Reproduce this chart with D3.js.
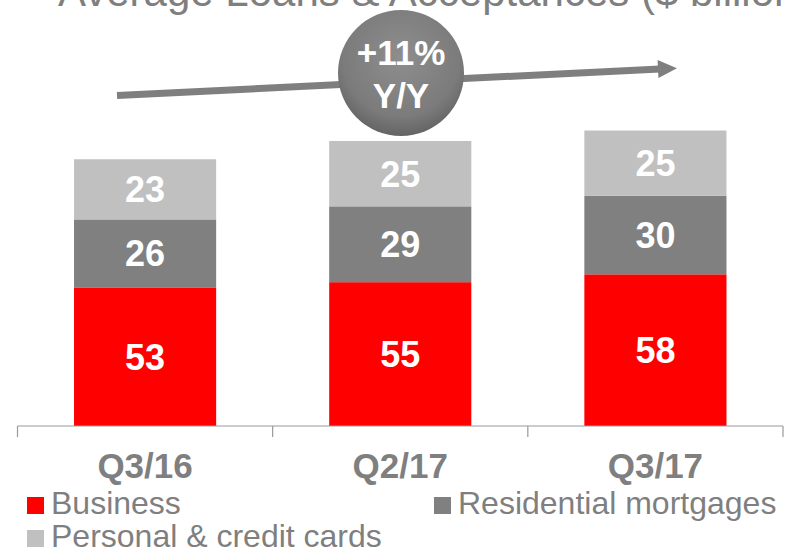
<!DOCTYPE html>
<html>
<head>
<meta charset="utf-8">
<script src="https://cdn.jsdelivr.net/npm/d3@7/dist/d3.min.js"></script>
<style>
  html, body { margin: 0; padding: 0; background: #fff; }
  svg { display: block; font-family: Arial, "Liberation Sans", sans-serif; }
</style>
</head>
<body>
<svg id="chart" width="788" height="553"></svg>
<script>
const title = "Average Loans & Acceptances ($ billions)";
const categories = ["Q3/16", "Q2/17", "Q3/17"];
const seriesNames = ["Business", "Residential mortgages", "Personal & credit cards"];
const business = [53, 55, 58];
const residential = [26, 29, 30];
const personal = [23, 25, 25];
const colors = ["#ff0000", "#808080", "#c0c0c0"];
const growthLabel = ["+11%", "Y/Y"];

const svg = d3.select("#chart");

const rows = categories.map((c, i) => ({
  cat: c, Business: business[i], "Residential mortgages": residential[i], "Personal & credit cards": personal[i]
}));
const stack = d3.stack().keys(seriesNames)(rows);

const x = d3.scaleBand().domain(categories).range([17.5, 783]).paddingInner(0).paddingOuter(0);
const y = d3.scaleLinear().domain([0, 100]).range([426, 426 - 261.5]);
const barW = x.bandwidth() * 0.557;

// Title (partially cut at top, as in the reference)
svg.append("text").attr("x", 58).attr("y", 6)
  .attr("font-size", 42).attr("fill", "#7f7f7f").text(title);

// bars
const g = svg.append("g");
stack.forEach((layer, li) => {
  layer.forEach((d, i) => {
    const cx = x(categories[i]) + x.bandwidth() / 2;
    g.append("rect")
      .attr("x", cx - barW / 2).attr("width", barW)
      .attr("y", y(d[1])).attr("height", y(d[0]) - y(d[1]))
      .attr("fill", colors[li]);
    g.append("text")
      .attr("x", cx).attr("y", (y(d[0]) + y(d[1])) / 2)
      .attr("text-anchor", "middle").attr("dy", "0.36em")
      .attr("font-size", 36).attr("font-weight", "bold").attr("fill", "#fff")
      .text(d[1] - d[0]);
  });
});

// axis
const axis = d3.axisBottom(x).tickSize(11).tickFormat("");
const ax = svg.append("g").attr("transform", "translate(0,426)").call(axis);
ax.select(".domain").attr("stroke", "#999").attr("stroke-width", 1.2).attr("d", "M17.5,0H783");
ax.selectAll(".tick").remove();
const bounds = [0, 1, 2, 3].map(k => 17.5 + k * x.step());
bounds.forEach(b => {
  ax.append("line").attr("x1", b).attr("x2", b).attr("y1", 0).attr("y2", 11)
    .attr("stroke", "#999").attr("stroke-width", 1.2);
});
categories.forEach(c => {
  svg.append("text").attr("x", x(c) + x.bandwidth() / 2).attr("y", 478)
    .attr("text-anchor", "middle").attr("font-size", 35).attr("font-weight", "bold")
    .attr("fill", "#7f7f7f").text(c);
});

// legend
const legendPos = [[27, 514], [434, 514], [27, 547]];
seriesNames.forEach((s, i) => {
  const [lx, ly] = legendPos[i];
  svg.append("rect").attr("x", lx).attr("y", ly - 17).attr("width", 17).attr("height", 17)
    .attr("fill", colors[i]);
  svg.append("text").attr("x", lx + 24).attr("y", ly)
    .attr("font-size", 32).attr("fill", "#7f7f7f").text(s);
});

// arrow
const defs = svg.append("defs");
const x0 = 117, y0 = 95.5, x1 = 660, y1 = 69;
const ang = Math.atan2(y1 - y0, x1 - x0);
svg.append("line").attr("x1", x0).attr("y1", y0).attr("x2", x1).attr("y2", y1)
  .attr("stroke", "#7f7f7f").attr("stroke-width", 7);
const tip = [x1 + 17 * Math.cos(ang), y1 + 17 * Math.sin(ang)];
const perp = [-Math.sin(ang), Math.cos(ang)];
svg.append("path")
  .attr("d", `M${tip[0]},${tip[1]} L${x1 - 2 * Math.cos(ang) + 9 * perp[0]},${y1 - 2 * Math.sin(ang) + 9 * perp[1]} L${x1 - 2 * Math.cos(ang) - 9 * perp[0]},${y1 - 2 * Math.sin(ang) - 9 * perp[1]} Z`)
  .attr("fill", "#7f7f7f");

// bubble
const rg = defs.append("radialGradient").attr("id", "bub").attr("cx", "50%").attr("cy", "38%").attr("r", "62%");
rg.append("stop").attr("offset", "0%").attr("stop-color", "#8e8e8e");
rg.append("stop").attr("offset", "75%").attr("stop-color", "#7b7b7b");
rg.append("stop").attr("offset", "100%").attr("stop-color", "#646464");
svg.append("ellipse").attr("cx", 401).attr("cy", 73).attr("rx", 63).attr("ry", 63)
  .attr("fill", "url(#bub)");
svg.append("text").attr("x", 401).attr("y", 65).attr("text-anchor", "middle")
  .attr("font-size", 35).attr("font-weight", "bold").attr("fill", "#fff").text(growthLabel[0]);
svg.append("text").attr("x", 401).attr("y", 108).attr("text-anchor", "middle")
  .attr("font-size", 35).attr("font-weight", "bold").attr("fill", "#fff").text(growthLabel[1]);
</script>
</body>
</html>
